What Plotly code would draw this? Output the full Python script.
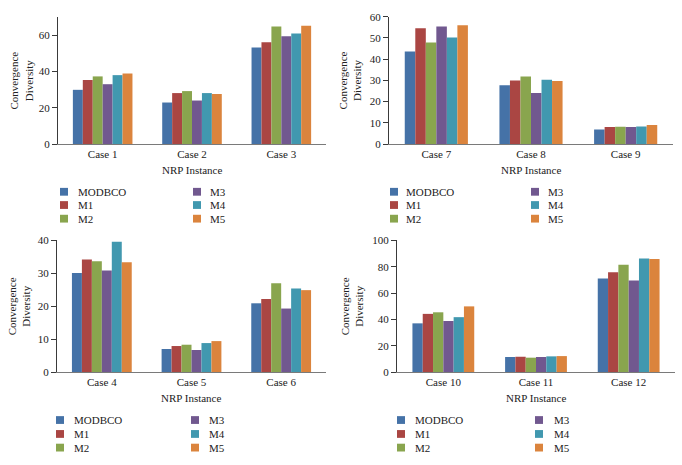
import plotly.graph_objects as go

# ---------------- data ----------------
cases = ["Case 1", "Case 2", "Case 3", "Case 4", "Case 5", "Case 6",
         "Case 7", "Case 8", "Case 9", "Case 10", "Case 11", "Case 12"]
series_names = ["MODBCO", "M1", "M2", "M3", "M4", "M5"]
MODBCO = [29.9, 22.9, 53.2, 30.1, 7.0, 20.9, 43.6, 27.7, 6.9, 37.0, 11.4, 71.1]
M1 = [35.3, 28.1, 56.2, 34.2, 7.9, 22.2, 54.6, 30.0, 8.0, 44.2, 11.6, 75.8]
M2 = [37.3, 29.2, 64.8, 33.7, 8.3, 27.0, 47.9, 31.8, 8.1, 45.4, 10.9, 81.5]
M3 = [33.0, 24.0, 59.5, 30.9, 6.7, 19.3, 55.4, 24.0, 8.0, 38.8, 11.4, 69.6]
M4 = [38.0, 28.1, 60.9, 39.6, 8.8, 25.4, 50.2, 30.3, 8.3, 41.7, 11.9, 86.4]
M5 = [38.9, 27.6, 65.2, 33.4, 9.4, 24.9, 56.0, 29.7, 9.0, 49.9, 12.1, 85.9]
series_values = [MODBCO, M1, M2, M3, M4, M5]
colors = ["#4572A7", "#AA4643", "#89A54E", "#71588F", "#4198AF", "#DB843D"]

y_title = "Convergence<br>Diversity"
x_title = "NRP Instance"

# ---------------- layout (pixel geometry) ----------------
W, H = 682, 465
FONT = "Liberation Serif"
TXT = "#222222"


def fx(p):
    return p / W


def fy(p):
    return 1 - p / H


panels = [
    dict(idx=[0, 1, 2], x0=58, x1=326, ytop=11.4, ybot=141.7, yr=[0, 70], dt=20,
         ytshift=-37, leg=(64, 76, 197, 208), rows=(190.7, 204.3, 218.3)),
    dict(idx=[6, 7, 8], x0=389, x1=673, ytop=11.0, ybot=141.7, yr=[0, 60], dt=10,
         ytshift=-39, leg=(394, 404, 535, 546), rows=(190.7, 204.3, 218.3)),
    dict(idx=[3, 4, 5], x0=57, x1=326, ytop=240.7, ybot=375.7, yr=[0, 40], dt=10,
         ytshift=-38, leg=(60, 72, 195, 207), rows=(425.0, 439.3, 453.3)),
    dict(idx=[9, 10, 11], x0=397, x1=675, ytop=240.7, ybot=375.7, yr=[0, 100], dt=20,
         ytshift=-45, leg=(401, 413, 539, 552), rows=(425.0, 439.3, 453.3)),
]

fig = go.Figure()
layout = dict(
    width=W, height=H,
    margin=dict(l=0, r=0, t=0, b=0),
    paper_bgcolor="white", plot_bgcolor="white",
    barmode="group", bargap=0.333, bargroupgap=0.0,
    showlegend=False,
    font=dict(family=FONT, size=11, color=TXT),
)
annotations = []
shapes = []

for n, p in enumerate(panels, start=1):
    xa = "x" if n == 1 else f"x{n}"
    ya = "y" if n == 1 else f"y{n}"
    cats = [cases[i] for i in p["idx"]]
    for name, vals, col in zip(series_names, series_values, colors):
        fig.add_trace(go.Bar(
            x=cats, y=[vals[i] for i in p["idx"]], name=name,
            marker=dict(color=col, line=dict(width=0)),
            xaxis=xa, yaxis=ya, showlegend=False,
        ))
    layout["xaxis" if n == 1 else f"xaxis{n}"] = dict(
        domain=[fx(p["x0"]), fx(p["x1"])], anchor=ya, type="category",
        range=[-0.5, 2.5], showline=True, linecolor="#7a7a7a", linewidth=1,
        ticks="", showgrid=False, zeroline=False,
        tickfont=dict(family=FONT, size=11, color=TXT),
    )
    layout["yaxis" if n == 1 else f"yaxis{n}"] = dict(
        domain=[fy(p["ybot"]), fy(p["ytop"])], anchor=xa,
        range=p["yr"], dtick=p["dt"], tick0=0, showline=True,
        linecolor="#3a3a3a", linewidth=1, ticks="outside", ticklen=5,
        tickcolor="#3a3a3a", showgrid=False, zeroline=False,
        tickfont=dict(family=FONT, size=11, color=TXT),
    )
    # axis titles
    annotations.append(dict(
        text=y_title, xref=f"{xa} domain", yref=f"{ya} domain", x=0, y=0.5,
        xshift=p["ytshift"], xanchor="center", yanchor="middle", textangle=-90,
        showarrow=False, font=dict(family=FONT, size=11, color=TXT),
    ))
    annotations.append(dict(
        text=x_title, xref=f"{xa} domain", yref=f"{ya} domain", x=0.5, y=0,
        yshift=-26, xanchor="center", yanchor="middle",
        showarrow=False, font=dict(family=FONT, size=11, color=TXT),
    ))
    # legend (two columns of three)
    sx1, tx1, sx2, tx2 = p["leg"]
    for k, (name, col) in enumerate(zip(series_names, colors)):
        column = k // 3
        row = k % 3
        sx = sx1 if column == 0 else sx2
        tx = tx1 if column == 0 else tx2
        yy = p["rows"][row]
        shapes.append(dict(
            type="rect", xref="paper", yref="paper",
            x0=fx(sx - 4), x1=fx(sx + 4), y0=fy(yy + 4), y1=fy(yy - 4),
            fillcolor=col, line=dict(width=0),
        ))
        annotations.append(dict(
            text=name, xref="paper", yref="paper", x=fx(tx), y=fy(yy),
            xanchor="left", yanchor="middle", showarrow=False,
            font=dict(family=FONT, size=11, color=TXT),
        ))

layout["annotations"] = annotations
layout["shapes"] = shapes
fig.update_layout(**layout)
fig.write_html(
    "out.html",
    config={"displayModeBar": False},
    post_script="document.body.style.margin='0';document.body.style.padding='0';",
)
